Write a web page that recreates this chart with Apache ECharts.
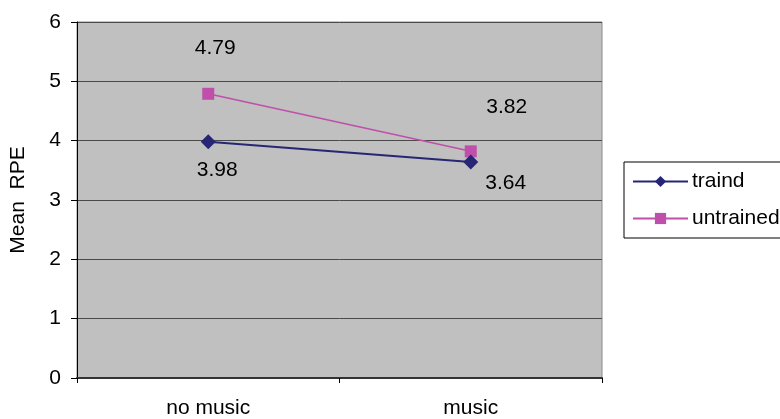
<!DOCTYPE html>
<html>
<head>
<meta charset="utf-8">
<script src="https://cdn.jsdelivr.net/npm/echarts@6/dist/echarts.min.js"></script>
<style>
  html, body { margin: 0; padding: 0; background: #fff; }
  #chart { width: 780px; height: 419px; }
</style>
</head>
<body>
<div id="chart"></div>
<script>
// Conditions and mean RPE per group
const categories = ['no music', 'music'];
const traind = [3.98, 3.64];
const untrained = [4.79, 3.82];
const yTicks = [0, 1, 2, 3, 4, 5, 6];

const font = 'Liberation Sans, Arial, sans-serif';
const fs = 21;

// label offsets for each point, keyed by series
const traindOffsets = [[9, 28], [35, 21]];
const untrainedOffsets = [[7, -46], [36, -44]];

function withLabels(values, offsets) {
  return values.map((v, i) => ({
    value: v,
    label: {
      show: true,
      position: 'inside',
      offset: offsets[i],
      formatter: v.toFixed(2),
      color: '#000',
      fontSize: fs,
      fontFamily: font
    }
  }));
}

const chart = echarts.init(document.getElementById('chart'), null, { renderer: 'canvas' });
chart.setOption({
  animation: false,
  backgroundColor: '#fff',
  grid: {
    left: 73, right: 178, top: 22, bottom: 39,
    show: true, backgroundColor: '#C0C0C0',
    borderColor: '#8a8a8a', borderWidth: 1
  },
  legend: {
    left: 624, top: 162,
    orient: 'vertical',
    itemWidth: 55, itemHeight: 14, itemGap: 16,
    padding: [9, 14, 9, 8],
    borderColor: '#000', borderWidth: 1,
    backgroundColor: '#fff',
    textStyle: { fontSize: fs, fontFamily: font, color: '#000', padding: [0, 0, 0, -1] },
    data: ['traind', 'untrained']
  },
  xAxis: {
    type: 'category',
    data: categories,
    boundaryGap: true,
    axisLine: { lineStyle: { color: '#333', width: 2 } },
    axisTick: { show: true, length: 5, lineStyle: { color: '#000' } },
    axisLabel: { fontSize: fs, fontFamily: font, color: '#000', margin: 20 },
    splitLine: { show: false }
  },
  yAxis: {
    type: 'value',
    min: yTicks[0], max: yTicks[yTicks.length - 1], interval: 1,
    name: 'Mean  RPE',
    nameLocation: 'middle',
    nameGap: 48,
    nameTextStyle: { fontSize: fs, fontFamily: font, color: '#000' },
    axisLine: { show: true, lineStyle: { color: '#000', width: 1 } },
    axisTick: { show: true, length: 6, lineStyle: { color: '#000' } },
    axisLabel: { fontSize: fs, fontFamily: font, color: '#000', margin: 16 },
    splitLine: { show: true, lineStyle: { color: '#4a4a4a', width: 1 } }
  },
  series: [
    {
      name: 'traind', type: 'line',
      data: withLabels(traind, traindOffsets),
      symbol: 'diamond', symbolSize: 15,
      color: '#262675',
      lineStyle: { width: 2, color: '#262675' },
      itemStyle: { color: '#262675' },
      z: 3
    },
    {
      name: 'untrained', type: 'line',
      data: withLabels(untrained, untrainedOffsets),
      symbol: 'rect', symbolSize: 12,
      color: '#BF4FAA',
      lineStyle: { width: 1.5, color: '#BF4FAA' },
      itemStyle: { color: '#BF4FAA' },
      z: 2
    }
  ]
});
</script>
</body>
</html>
